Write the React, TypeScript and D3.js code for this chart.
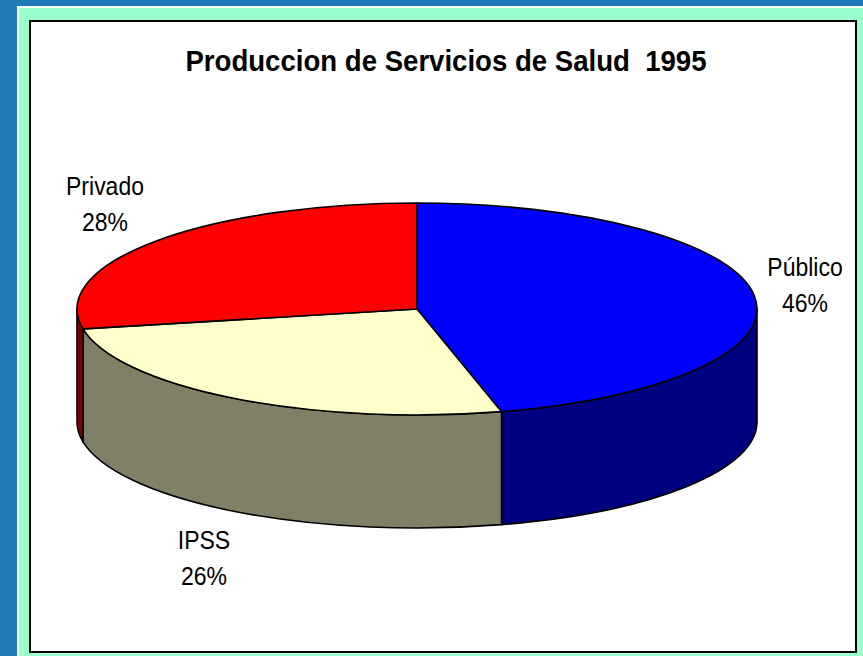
import React from "react";
import * as d3 from "d3";

const categories = ["Público", "IPSS", "Privado"];
const values = [46, 26, 28];
const percentLabels = ["46%", "26%", "28%"];
const topColors = ["#0000FF", "#FFFFCC", "#FF0000"];
const sideColors = ["#000080", "#808068", "#800000"];
const title = "Produccion de Servicios de Salud  1995";

const W = 863;
const H = 656;
const cx = 417;
const cy = 309;
const rx = 340;
const ry = 106;
const depth = 113;

// label positions (center x, baseline y) for name line
const labelPos: [number, number][] = [
  [805, 276],
  [204, 549],
  [105, 195],
];

function pt(a: number, dy = 0): [number, number] {
  return [cx + rx * Math.sin(a), cy - ry * Math.cos(a) + dy];
}

export default function App() {
  const pie = d3
    .pie<number>()
    .sort(null)
    .startAngle(0)
    .endAngle(2 * Math.PI)
    .value((d) => d);
  const arcs = pie(values);

  const tops = arcs.map((a, i) => {
    const p0 = pt(a.startAngle);
    const p1 = pt(a.endAngle);
    const large = a.endAngle - a.startAngle > Math.PI ? 1 : 0;
    const d =
      `M${cx},${cy}L${p0[0]},${p0[1]}` +
      `A${rx},${ry} 0 ${large} 1 ${p1[0]},${p1[1]}Z`;
    return <path key={"t" + i} d={d} fill={topColors[i]} stroke="#000" strokeWidth={1.6} strokeLinejoin="round" />;
  });

  const sides = arcs
    .map((a, i) => {
      const s = Math.max(a.startAngle, Math.PI / 2);
      const e = Math.min(a.endAngle, (3 * Math.PI) / 2);
      if (e <= s) return null;
      const p0 = pt(s);
      const p1 = pt(e);
      const q1 = pt(e, depth);
      const q0 = pt(s, depth);
      const d =
        `M${p0[0]},${p0[1]}A${rx},${ry} 0 0 1 ${p1[0]},${p1[1]}` +
        `L${q1[0]},${q1[1]}A${rx},${ry} 0 0 0 ${q0[0]},${q0[1]}Z`;
      return <path key={"s" + i} d={d} fill={sideColors[i]} stroke="#000" strokeWidth={1.6} strokeLinejoin="round" />;
    })
    .filter(Boolean);

  const font = "'Liberation Sans', Arial, sans-serif";

  return (
    <svg
      width={W}
      height={H}
      style={{ position: "fixed", left: 0, top: 0, display: "block" }}
    >
      <rect x={0} y={0} width={W} height={H} fill="#1F7AB5" />
      <rect x={17} y={6} width={W - 17} height={H - 6} fill="#FFFFFF" />
      <rect x={19} y={8} width={W - 19} height={H - 8} fill="#99FFCC" />
      <rect x={30} y={21} width={826} height={631} fill="#FFFFFF" stroke="#000" strokeWidth={2} />
      <text
        transform="translate(446,71) scale(0.985,1.05)"
        textAnchor="middle"
        fontFamily={font}
        fontWeight="bold"
        fontSize={28}
        fill="#000"
        style={{ whiteSpace: "pre" }}
      >
        {title}
      </text>
      {sides}
      {tops}
      {categories.map((c, i) => (
        <g key={"l" + i} fontFamily={font} fontSize={23} fill="#000" textAnchor="middle">
          <text transform={`translate(${labelPos[i][0]},${labelPos[i][1]}) scale(1,1.1)`}>{c}</text>
          <text transform={`translate(${labelPos[i][0]},${labelPos[i][1] + 36}) scale(1,1.1)`}>{percentLabels[i]}</text>
        </g>
      ))}
    </svg>
  );
}
